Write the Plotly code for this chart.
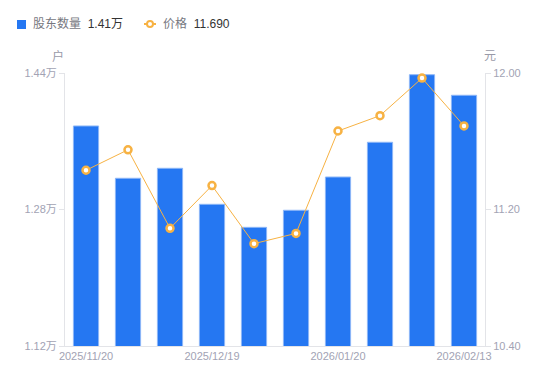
import plotly.graph_objects as go

dates = ["2025/11/20", "2025/11/30", "2025/12/10", "2025/12/19", "2025/12/31",
         "2026/01/09", "2026/01/20", "2026/01/31", "2026/02/10", "2026/02/13"]
holders = [13779, 13166, 13283, 12861, 12591, 12791, 13181, 13588, 14380, 14139]
prices = [11.43, 11.55, 11.09, 11.34, 11.00, 11.06, 11.66, 11.75, 11.97, 11.69]
left_ticks = [11200, 12800, 14400]
left_ticktext = ["1.12万", "1.28万", "1.44万"]
right_ticks = [10.40, 11.20, 12.00]
right_ticktext = ["10.40", "11.20", "12.00"]
shown_dates = ["2025/11/20", "2025/12/19", "2026/01/20", "2026/02/13"]

BLUE = "#2577F2"
ORANGE = "#F7B243"
TICK = "#A2A3B4"
AXIS = "#E3E4E8"
FONT = "Liberation Sans, Noto Sans CJK SC, sans-serif"

# page body has 8px default margin
W, H = 534, 365
L, R, T, B = 57, 57, 65, 27
# plot area in window pixel coords
X0, X1, Y0, Y1 = 65, 485, 73, 346

def px(x):
    return (x - X0) / (X1 - X0)

def py(y):
    return (Y1 - y) / (Y1 - Y0)

fig = go.Figure()
fig.add_trace(go.Bar(x=dates, y=holders, marker=dict(color=BLUE, line=dict(color="#8DB7F7", width=1)),
                     width=0.6, yaxis="y", showlegend=False))
fig.add_trace(go.Scatter(x=dates, y=prices, mode="lines+markers", yaxis="y2",
                         line=dict(color=ORANGE, width=1),
                         marker=dict(size=7, color="white", line=dict(color=ORANGE, width=2.5)),
                         showlegend=False))

fig.update_layout(
    width=W, height=H,
    margin=dict(l=L, r=R, t=T, b=B),
    plot_bgcolor="white", paper_bgcolor="white",
    font=dict(family=FONT, size=11, color=TICK),
    bargap=0.4,
    xaxis=dict(type="category", range=[-0.5, len(dates) - 0.5], tickmode="array",
               tickvals=shown_dates, ticktext=shown_dates,
               showline=True, linecolor=AXIS, linewidth=1, ticks="", showgrid=False,
               tickfont=dict(size=11, color=TICK), zeroline=False),
    yaxis=dict(range=[11200, 14400], tickvals=left_ticks, ticktext=left_ticktext,
               showline=True, linecolor=AXIS, linewidth=1, ticks="outside", ticklen=5,
               tickcolor=AXIS, showgrid=False, zeroline=False, tickfont=dict(size=11, color=TICK)),
    yaxis2=dict(range=[10.40, 12.00], tickvals=right_ticks, ticktext=right_ticktext,
                overlaying="y", side="right", showline=True, linecolor=AXIS, linewidth=1,
                ticks="outside", ticklen=5, tickcolor=AXIS, showgrid=False, zeroline=False,
                tickfont=dict(size=11, color=TICK)),
)

# axis unit labels
fig.add_annotation(x=px(58), y=py(56), xref="paper", yref="paper", text="户", showarrow=False,
                   font=dict(size=12, color="#999AA8"), xanchor="center", yanchor="middle")
fig.add_annotation(x=px(490), y=py(56), xref="paper", yref="paper", text="元", showarrow=False,
                   font=dict(size=12, color="#999AA8"), xanchor="center", yanchor="middle")

# custom legend
fig.add_shape(type="rect", xref="paper", yref="paper", x0=px(17), x1=px(26), y0=py(29), y1=py(20),
              fillcolor=BLUE, line=dict(width=0))
fig.add_annotation(x=px(31), y=py(24), xref="paper", yref="paper", showarrow=False,
                   xanchor="left", yanchor="middle",
                   text='股东数量  <span style="color:#333333">%.2f万</span>' % (holders[-1] / 10000),
                   font=dict(size=12, color="#77787F"))
fig.add_shape(type="line", xref="paper", yref="paper", x0=px(144), x1=px(156), y0=py(24), y1=py(24),
              line=dict(color=ORANGE, width=2))
fig.add_shape(type="circle", xref="paper", yref="paper", x0=px(147), x1=px(153), y0=py(27), y1=py(21),
              fillcolor="white", line=dict(color=ORANGE, width=2))
fig.add_annotation(x=px(161), y=py(24), xref="paper", yref="paper", showarrow=False,
                   xanchor="left", yanchor="middle",
                   text='价格  <span style="color:#333333">%.3f</span>' % prices[-1],
                   font=dict(size=12, color="#77787F"))

fig.write_html("out.html")
